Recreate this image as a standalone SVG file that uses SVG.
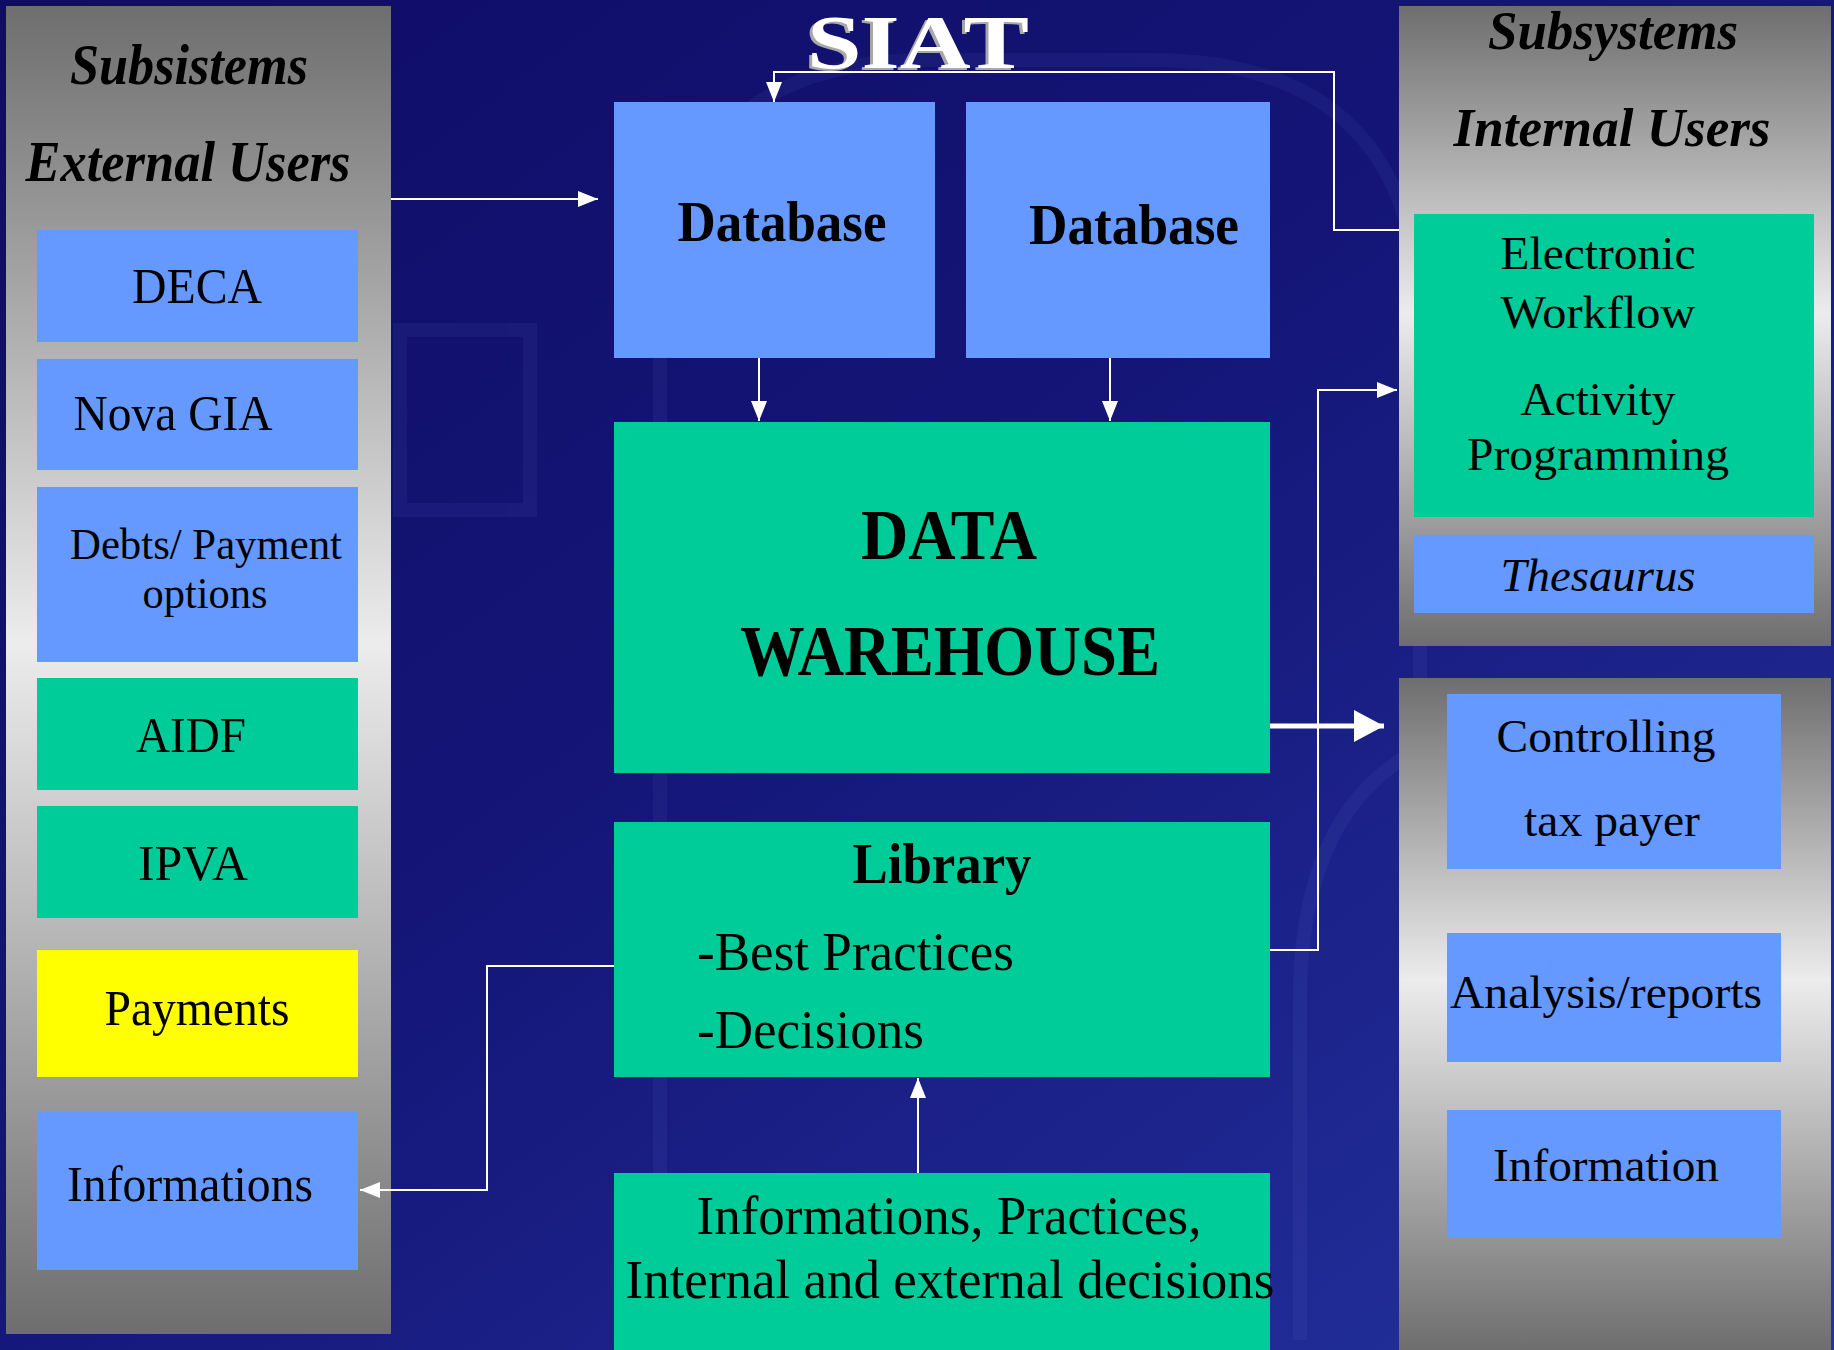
<svg xmlns="http://www.w3.org/2000/svg" width="1834" height="1350" viewBox="0 0 1834 1350">
<defs>
<linearGradient id="bg" x1="0" y1="0" x2="1" y2="1">
<stop offset="0" stop-color="#0f0c66"/>
<stop offset="0.45" stop-color="#141577"/>
<stop offset="1" stop-color="#2433a0"/>
</linearGradient>
<linearGradient id="panel" x1="0" y1="0" x2="0" y2="1">
<stop offset="0" stop-color="#6e6e6e"/>
<stop offset="0.48" stop-color="#ececec"/>
<stop offset="1" stop-color="#6e6e6e"/>
</linearGradient>
<linearGradient id="panel2" x1="0" y1="0" x2="0" y2="1">
<stop offset="0" stop-color="#6e6e6e"/>
<stop offset="0.45" stop-color="#ececec"/>
<stop offset="1" stop-color="#6e6e6e"/>
</linearGradient>
<marker id="ah" markerUnits="userSpaceOnUse" markerWidth="22" markerHeight="16" refX="20" refY="8" orient="auto">
<path d="M0,0 L20,8 L0,16 Z" fill="#ffffff"/>
</marker>
<marker id="ahBig" markerUnits="userSpaceOnUse" markerWidth="32" markerHeight="32" refX="30" refY="16" orient="auto">
<path d="M0,0 L30,16 L0,32 Z" fill="#ffffff"/>
</marker>
<style>
.t{font-family:"Liberation Serif","Times New Roman",serif;fill:#000;text-anchor:middle}
.s{text-anchor:start}
.b{font-weight:bold}
.i{font-style:italic}
.blue{fill:#6699ff}
.green{fill:#00cc99}
.yellow{fill:#ffff00}
.c{fill:none;stroke:#ffffff;stroke-width:2}
</style>
</defs>

<rect x="0" y="0" width="1834" height="1350" fill="url(#bg)"/>
<g opacity="0.06" fill="none" stroke="#9aa6ff" stroke-width="14">
<path d="M660,1340 L660,330 Q660,60 930,60 L1150,60 Q1420,60 1420,330 L1420,900"/>
<rect x="400" y="330" width="130" height="180"/>
<path d="M1300,1340 L1300,1000 Q1300,720 1560,720"/>
</g>

<g id="left-panel">
<rect x="6" y="6" width="385" height="1328" fill="url(#panel)"/>
<text class="t b i" x="189" y="84" font-size="58" textLength="238" lengthAdjust="spacingAndGlyphs">Subsistems</text>
<text class="t b i" x="188" y="181" font-size="58" textLength="325" lengthAdjust="spacingAndGlyphs">External Users</text>
</g>
<g id="deca">
<rect class="blue" x="37" y="230" width="321" height="112"/>
<text class="t" x="197" y="303" font-size="50" textLength="130" lengthAdjust="spacingAndGlyphs">DECA</text>
</g>
<g id="nova-gia">
<rect class="blue" x="37" y="359" width="321" height="111"/>
<text class="t" x="173" y="430" font-size="50" textLength="199" lengthAdjust="spacingAndGlyphs">Nova GIA</text>
</g>
<g id="debts">
<rect class="blue" x="37" y="487" width="321" height="175"/>
<text class="t" x="206" y="559" font-size="44" textLength="272" lengthAdjust="spacingAndGlyphs">Debts/ Payment</text>
<text class="t" x="205" y="608" font-size="44" textLength="125" lengthAdjust="spacingAndGlyphs">options</text>
</g>
<g id="aidf">
<rect class="green" x="37" y="678" width="321" height="112"/>
<text class="t" x="191" y="752" font-size="50" textLength="110" lengthAdjust="spacingAndGlyphs">AIDF</text>
</g>
<g id="ipva">
<rect class="green" x="37" y="806" width="321" height="112"/>
<text class="t" x="193" y="880" font-size="50" textLength="110" lengthAdjust="spacingAndGlyphs">IPVA</text>
</g>
<g id="payments">
<rect class="yellow" x="37" y="950" width="321" height="127"/>
<text class="t" x="197" y="1025" font-size="50" textLength="185" lengthAdjust="spacingAndGlyphs">Payments</text>
</g>
<g id="informations">
<rect class="blue" x="37" y="1111" width="321" height="159"/>
<text class="t" x="190" y="1201" font-size="50" textLength="246" lengthAdjust="spacingAndGlyphs">Informations</text>
</g>

<g id="title">
<text class="t b" x="915" y="70" font-size="76" style="fill:#a8a8a8" textLength="222" lengthAdjust="spacingAndGlyphs">SIAT</text>
<text class="t b" x="918" y="68" font-size="76" style="fill:#ffffff" textLength="222" lengthAdjust="spacingAndGlyphs">SIAT</text>
</g>

<g id="database1">
<rect class="blue" x="614" y="102" width="321" height="256"/>
<text class="t b" x="782" y="241" font-size="58" textLength="209" lengthAdjust="spacingAndGlyphs">Database</text>
</g>
<g id="database2">
<rect class="blue" x="966" y="102" width="304" height="256"/>
<text class="t b" x="1134" y="244" font-size="58" textLength="210" lengthAdjust="spacingAndGlyphs">Database</text>
</g>
<g id="data-warehouse">
<rect class="green" x="614" y="422" width="656" height="351"/>
<text class="t b" x="949" y="559" font-size="72" textLength="176" lengthAdjust="spacingAndGlyphs">DATA</text>
<text class="t b" x="950" y="675" font-size="72" textLength="420" lengthAdjust="spacingAndGlyphs">WAREHOUSE</text>
</g>
<g id="library">
<rect class="green" x="614" y="822" width="656" height="255"/>
<text class="t b" x="942" y="883" font-size="56" textLength="179" lengthAdjust="spacingAndGlyphs">Library</text>
<text class="t s" x="697" y="970" font-size="54" textLength="317" lengthAdjust="spacingAndGlyphs">-Best Practices</text>
<text class="t s" x="697" y="1048" font-size="54" textLength="227" lengthAdjust="spacingAndGlyphs">-Decisions</text>
</g>
<g id="sources">
<rect class="green" x="614" y="1173" width="656" height="177"/>
<text class="t" x="949" y="1234" font-size="54" textLength="505" lengthAdjust="spacingAndGlyphs">Informations, Practices,</text>
<text class="t" x="950" y="1298" font-size="54" textLength="649" lengthAdjust="spacingAndGlyphs">Internal and external decisions</text>
</g>

<g id="internal-panel">
<rect x="1399" y="6" width="432" height="640" fill="url(#panel)"/>
<text class="t b i" x="1613" y="49" font-size="54" textLength="250" lengthAdjust="spacingAndGlyphs">Subsystems</text>
<text class="t b i" x="1612" y="146" font-size="54" textLength="317" lengthAdjust="spacingAndGlyphs">Internal Users</text>
</g>
<g id="workflow">
<rect class="green" x="1414" y="214" width="400" height="303"/>
<text class="t" x="1598" y="269" font-size="46" textLength="195" lengthAdjust="spacingAndGlyphs">Electronic</text>
<text class="t" x="1598" y="328" font-size="46" textLength="195" lengthAdjust="spacingAndGlyphs">Workflow</text>
<text class="t" x="1598" y="415" font-size="46" textLength="155" lengthAdjust="spacingAndGlyphs">Activity</text>
<text class="t" x="1598" y="470" font-size="46" textLength="262" lengthAdjust="spacingAndGlyphs">Programming</text>
</g>
<g id="thesaurus">
<rect class="blue" x="1414" y="535" width="400" height="78"/>
<text class="t i" x="1598" y="591" font-size="46" textLength="195" lengthAdjust="spacingAndGlyphs">Thesaurus</text>
</g>

<g id="output-panel">
<rect x="1399" y="678" width="432" height="672" fill="url(#panel2)"/>
</g>
<g id="controlling">
<rect class="blue" x="1447" y="694" width="334" height="175"/>
<text class="t" x="1606" y="752" font-size="46" textLength="219" lengthAdjust="spacingAndGlyphs">Controlling</text>
<text class="t" x="1612" y="836" font-size="46" textLength="176" lengthAdjust="spacingAndGlyphs">tax payer</text>
</g>
<g id="analysis">
<rect class="blue" x="1447" y="933" width="334" height="129"/>
<text class="t" x="1606" y="1008" font-size="46" textLength="312" lengthAdjust="spacingAndGlyphs">Analysis/reports</text>
</g>
<g id="information">
<rect class="blue" x="1447" y="1110" width="334" height="128"/>
<text class="t" x="1606" y="1181" font-size="46" textLength="226" lengthAdjust="spacingAndGlyphs">Information</text>
</g>

<g id="connectors">
<path class="c" d="M391,199 L598,199" marker-end="url(#ah)"/>
<path class="c" d="M1399,230 L1334,230 L1334,72 L774,72 L774,102" marker-end="url(#ah)"/>
<path class="c" d="M759,358 L759,421" marker-end="url(#ah)"/>
<path class="c" d="M1110,358 L1110,421" marker-end="url(#ah)"/>
<path d="M1270,726 L1384,726" fill="none" stroke="#ffffff" stroke-width="5" marker-end="url(#ahBig)"/>
<path class="c" d="M1270,950 L1318,950 L1318,390 L1397,390" marker-end="url(#ah)"/>
<path class="c" d="M614,966 L487,966 L487,1190 L360,1190" marker-end="url(#ah)"/>
<path class="c" d="M918,1173 L918,1078" marker-end="url(#ah)"/>
</g>
</svg>
